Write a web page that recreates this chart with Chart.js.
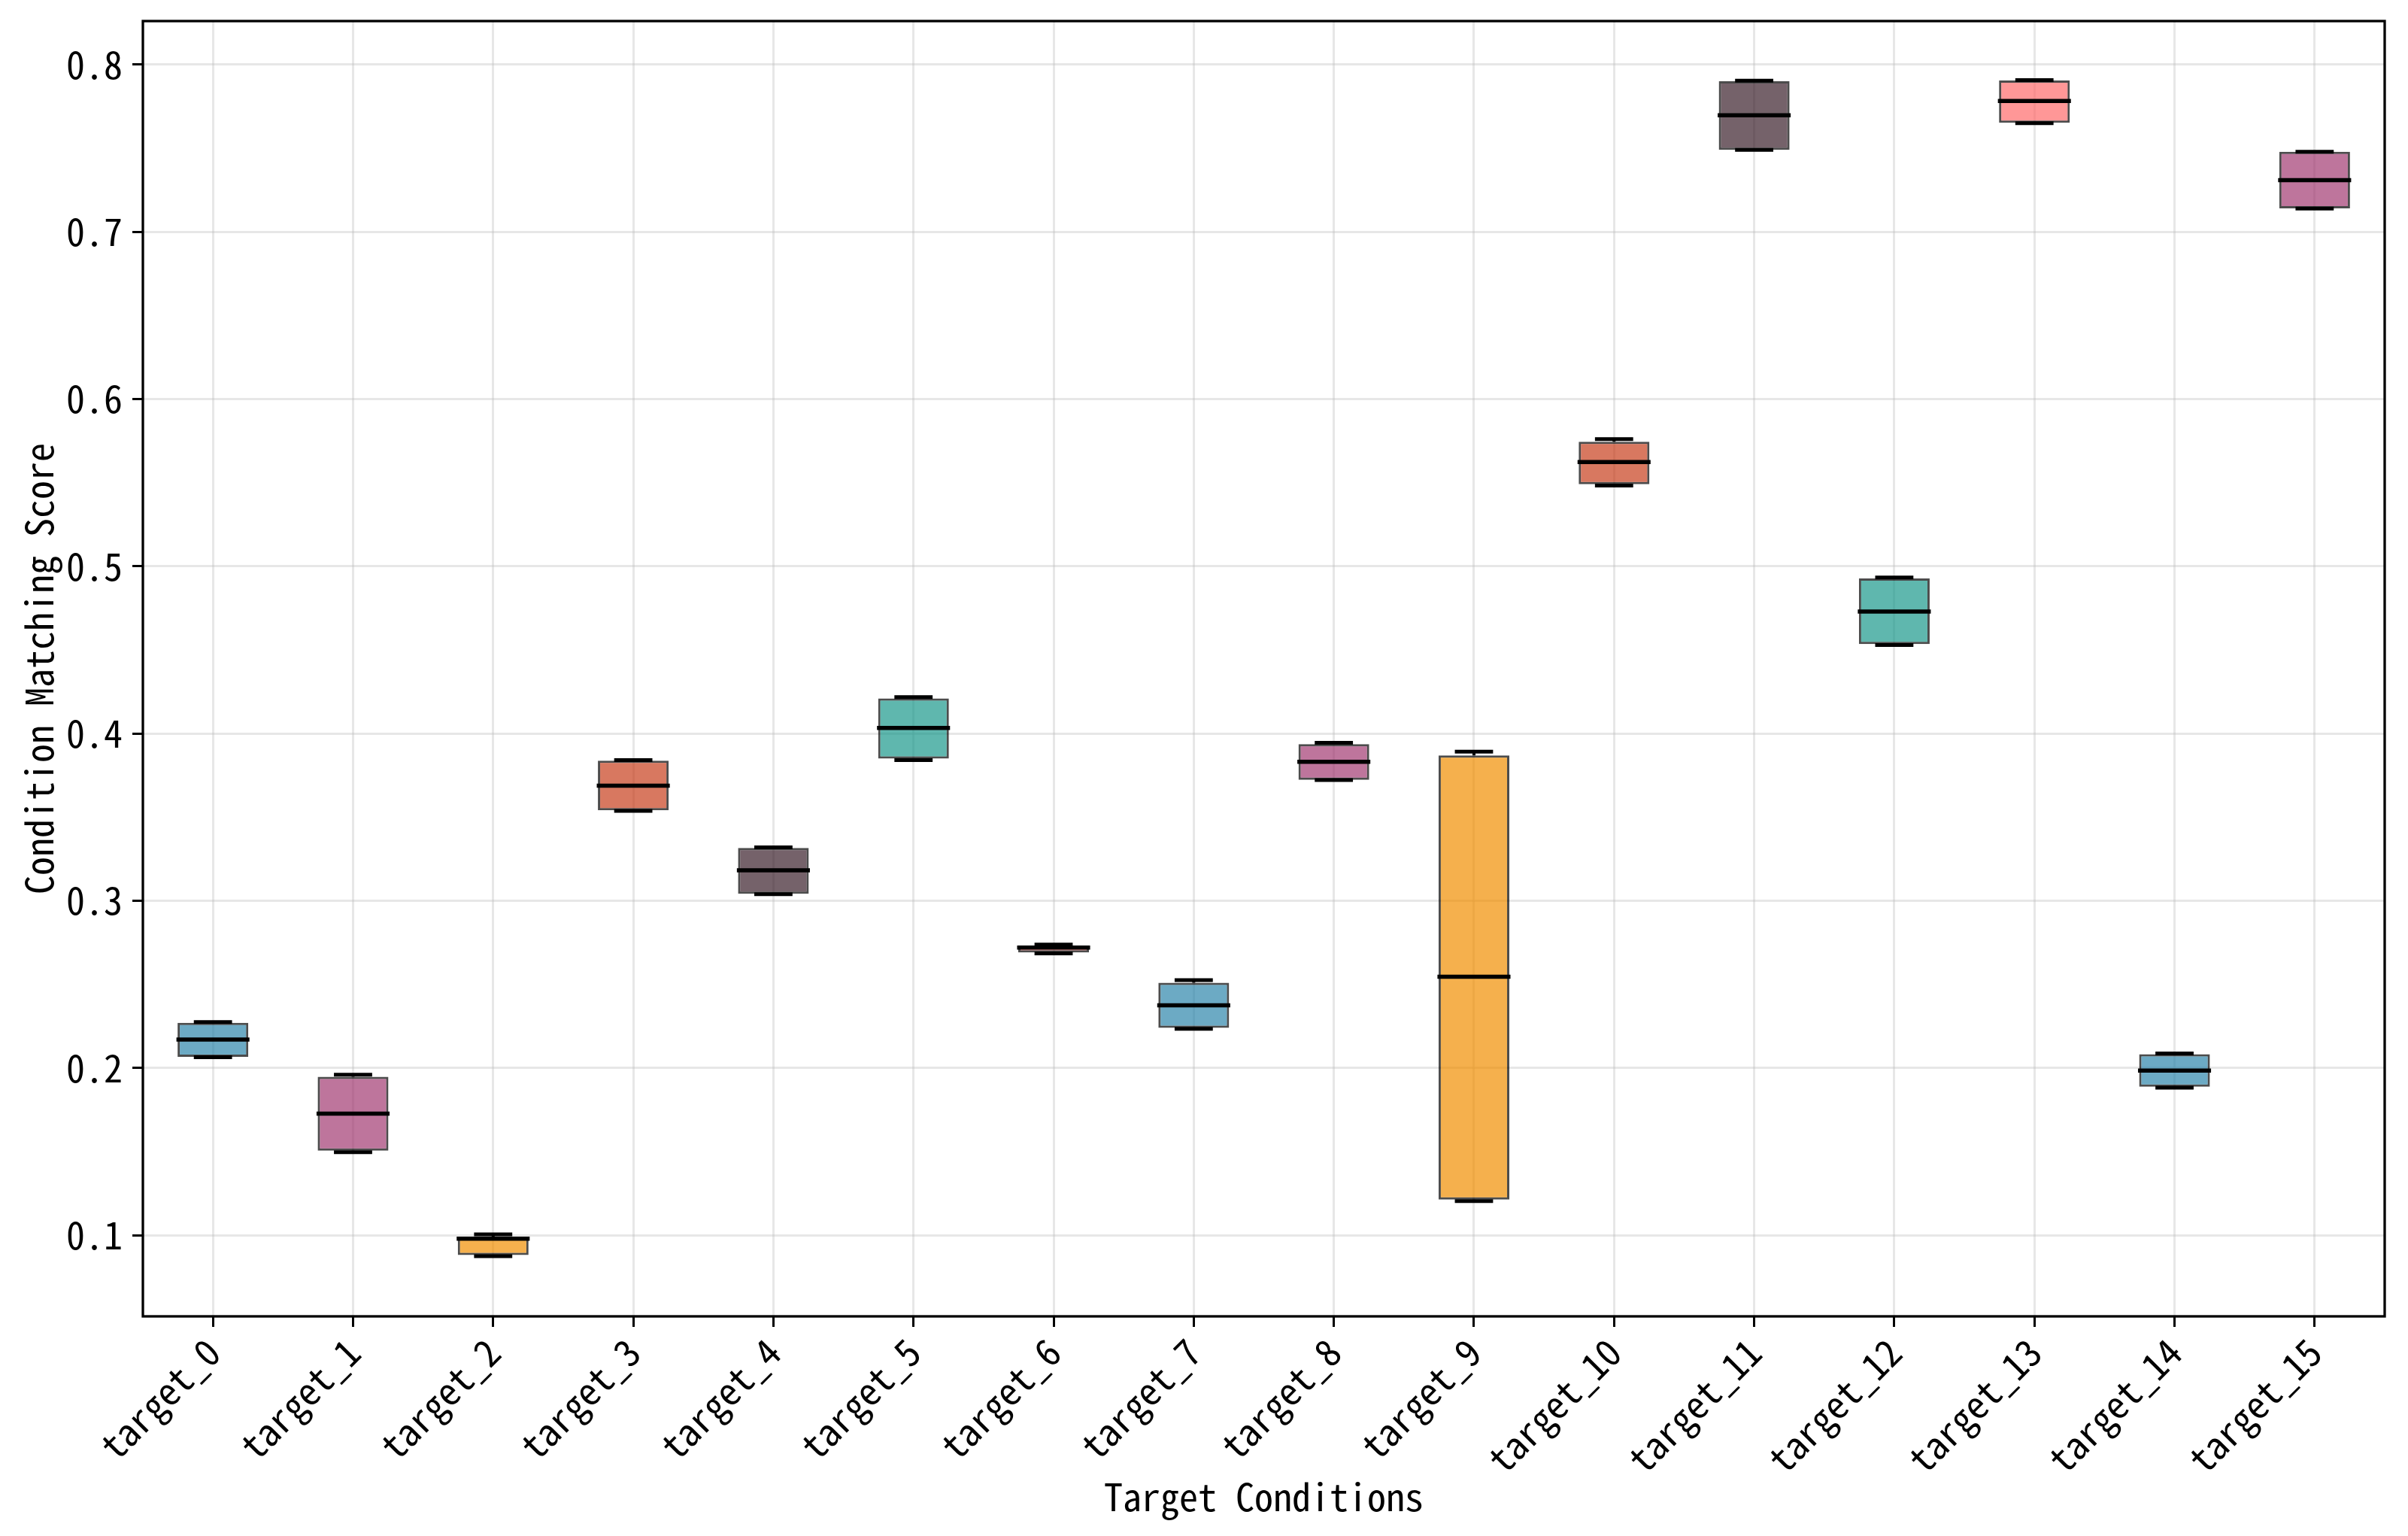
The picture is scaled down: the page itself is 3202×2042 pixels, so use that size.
<!DOCTYPE html>
<html>
<head>
<meta charset="utf-8">
<script src="https://cdn.jsdelivr.net/npm/chart.js@4.4.1/dist/chart.umd.min.js"></script>
<style>
  html, body { margin: 0; padding: 0; background: #ffffff; }
  #wrap { width: 3202px; height: 2042px; }
</style>
</head>
<body>
<div id="wrap"><canvas id="c" width="3202" height="2042"></canvas></div>
<script>
// ---- data ----
const categories = ["target_0","target_1","target_2","target_3","target_4","target_5","target_6","target_7",
                    "target_8","target_9","target_10","target_11","target_12","target_13","target_14","target_15"];
const whiskerLow  = [0.2064,0.1497,0.0875,0.3538,0.3039,0.3841,0.2685,0.2234,0.3722,0.1204,0.5483,0.7490,0.4529,0.7650,0.1882,0.7139];
const q1Values    = [0.2067,0.1506,0.0881,0.3541,0.3042,0.3850,0.2691,0.2240,0.3723,0.1213,0.5490,0.7490,0.4535,0.7652,0.1888,0.7140];
const medianValues= [0.2170,0.1727,0.0979,0.3688,0.3182,0.4033,0.2720,0.2375,0.3831,0.2546,0.5623,0.7697,0.4729,0.7782,0.1985,0.7309];
const q3Values    = [0.2270,0.1948,0.0983,0.3838,0.3316,0.4210,0.2733,0.2510,0.3937,0.3869,0.5745,0.7900,0.4927,0.7905,0.2083,0.7478];
const whiskerHigh = [0.2275,0.1960,0.1005,0.3841,0.3319,0.4218,0.2738,0.2525,0.3944,0.3892,0.5760,0.7903,0.4933,0.7907,0.2087,0.7479];
const yTickValues = [0.1,0.2,0.3,0.4,0.5,0.6,0.7,0.8];
const yMin = 0.0515, yMax = 0.826;
const xTitle = "Target Conditions";
const yTitle = "Condition Matching Score";

// ---- styles ----
const palette = ["#2E86AB","#A23B72","#F18F01","#C73E1D","#3B1F2B","#1B998B","#FF6B6B"];
function withAlpha(hex, a) {
  const r = parseInt(hex.slice(1,3),16), g = parseInt(hex.slice(3,5),16), b = parseInt(hex.slice(5,7),16);
  return `rgba(${r},${g},${b},${a})`;
}
const fills = categories.map((_, i) => withAlpha(palette[i % palette.length], 0.7));

// font detection: prefer a half-width monospace CJK font (SimHei-like look)
let fontFamily = '"DejaVu Sans Mono", monospace';
let fontSize = 42;
(function () {
  const cv = document.createElement('canvas').getContext('2d');
  cv.font = '50px "Noto Sans Mono CJK SC", serif';
  const w1 = cv.measureText('Target Conditions').width;
  cv.font = '50px serif';
  const w2 = cv.measureText('Target Conditions').width;
  if (Math.abs(w1 - w2) > 1 && Math.abs(w1 - 17 * 25) < 12) {
    fontFamily = '"Noto Sans Mono CJK SC", "DejaVu Sans Mono", monospace';
    fontSize = 50;
  }
})();

const boxDecor = {
  id: 'boxDecor',
  afterDatasetsDraw(chart) {
    const ctx = chart.ctx;
    const xs = chart.scales.x, ys = chart.scales.y;
    const meta = chart.getDatasetMeta(0);
    ctx.save();
    ctx.strokeStyle = '#000000';
    ctx.lineCap = 'butt';
    categories.forEach((_, i) => {
      const bar = meta.data[i];
      const cx = xs.getPixelForValue(i);
      const w = bar.width;
      const yLo = ys.getPixelForValue(whiskerLow[i]);
      const yQ1 = ys.getPixelForValue(q1Values[i]);
      const yMed = ys.getPixelForValue(medianValues[i]);
      const yQ3 = ys.getPixelForValue(q3Values[i]);
      const yHi = ys.getPixelForValue(whiskerHigh[i]);
      // whiskers
      ctx.lineWidth = 4;
      ctx.beginPath();
      ctx.moveTo(cx, yQ3); ctx.lineTo(cx, yHi);
      ctx.moveTo(cx, yQ1); ctx.lineTo(cx, yLo);
      ctx.stroke();
      // caps
      const capHalf = w * 0.27;
      ctx.lineWidth = 5;
      ctx.beginPath();
      ctx.moveTo(cx - capHalf, yHi); ctx.lineTo(cx + capHalf, yHi);
      ctx.moveTo(cx - capHalf, yLo); ctx.lineTo(cx + capHalf, yLo);
      ctx.stroke();
      // median
      ctx.lineWidth = 5.5;
      ctx.beginPath();
      ctx.moveTo(cx - w / 2 - 1.5, yMed); ctx.lineTo(cx + w / 2 + 1.5, yMed);
      ctx.stroke();
    });
    ctx.restore();
  },
  afterDraw(chart) {
    const a = chart.chartArea, ctx = chart.ctx;
    ctx.save();
    ctx.strokeStyle = '#000000';
    ctx.lineWidth = 3.3;
    ctx.strokeRect(a.left, a.top, a.right - a.left, a.bottom - a.top);
    ctx.restore();
  }
};

const gridColor = 'rgba(176,176,176,0.3)';

new Chart(document.getElementById('c'), {
  type: 'bar',
  data: {
    labels: categories,
    datasets: [{
      label: 'IQR',
      data: categories.map((_, i) => [q1Values[i], q3Values[i]]),
      backgroundColor: fills,
      borderColor: 'rgba(0,0,0,0.7)',
      borderWidth: 3,
      borderSkipped: false,
      categoryPercentage: 1.0,
      barPercentage: 0.505
    }]
  },
  options: {
    responsive: false,
    devicePixelRatio: 1,
    animation: false,
    layout: { padding: { top: 28, right: 31, left: 0, bottom: 0 } },
    plugins: { legend: { display: false }, tooltip: { enabled: false } },
    scales: {
      x: {
        type: 'category',
        offset: true,
        grid: { display: true, color: gridColor, lineWidth: 3, offset: false, drawTicks: true,
                tickLength: 14, tickColor: '#000000', tickWidth: 3 },
        border: { display: false },
        ticks: { autoSkip: false, maxRotation: 45, minRotation: 45, padding: 4, color: '#000000',
                 font: { family: fontFamily, size: fontSize } },
        title: { display: true, text: xTitle, color: '#000000',
                 font: { family: fontFamily, size: fontSize }, padding: { top: 0, bottom: 22 } },
        afterFit(scale) { scale.height = 292; scale.paddingLeft = 0; scale.paddingRight = 0; }
      },
      y: {
        type: 'linear',
        min: yMin, max: yMax,
        grid: { display: true, color: gridColor, lineWidth: 3, drawTicks: true,
                tickLength: 14, tickColor: '#000000', tickWidth: 3 },
        border: { display: false },
        afterBuildTicks(scale) { scale.ticks = yTickValues.map(v => ({ value: v })); },
        ticks: { padding: 13, color: '#000000', font: { family: fontFamily, size: fontSize },
                 callback: (v) => Number(v).toFixed(1) },
        title: { display: true, text: yTitle, color: '#000000',
                 font: { family: fontFamily, size: fontSize }, padding: { top: 22, bottom: 0 } },
        afterFit(scale) { scale.width = 190; scale.paddingTop = 0; scale.paddingBottom = 0; }
      }
    }
  },
  plugins: [boxDecor]
});
</script>
</body>
</html>
